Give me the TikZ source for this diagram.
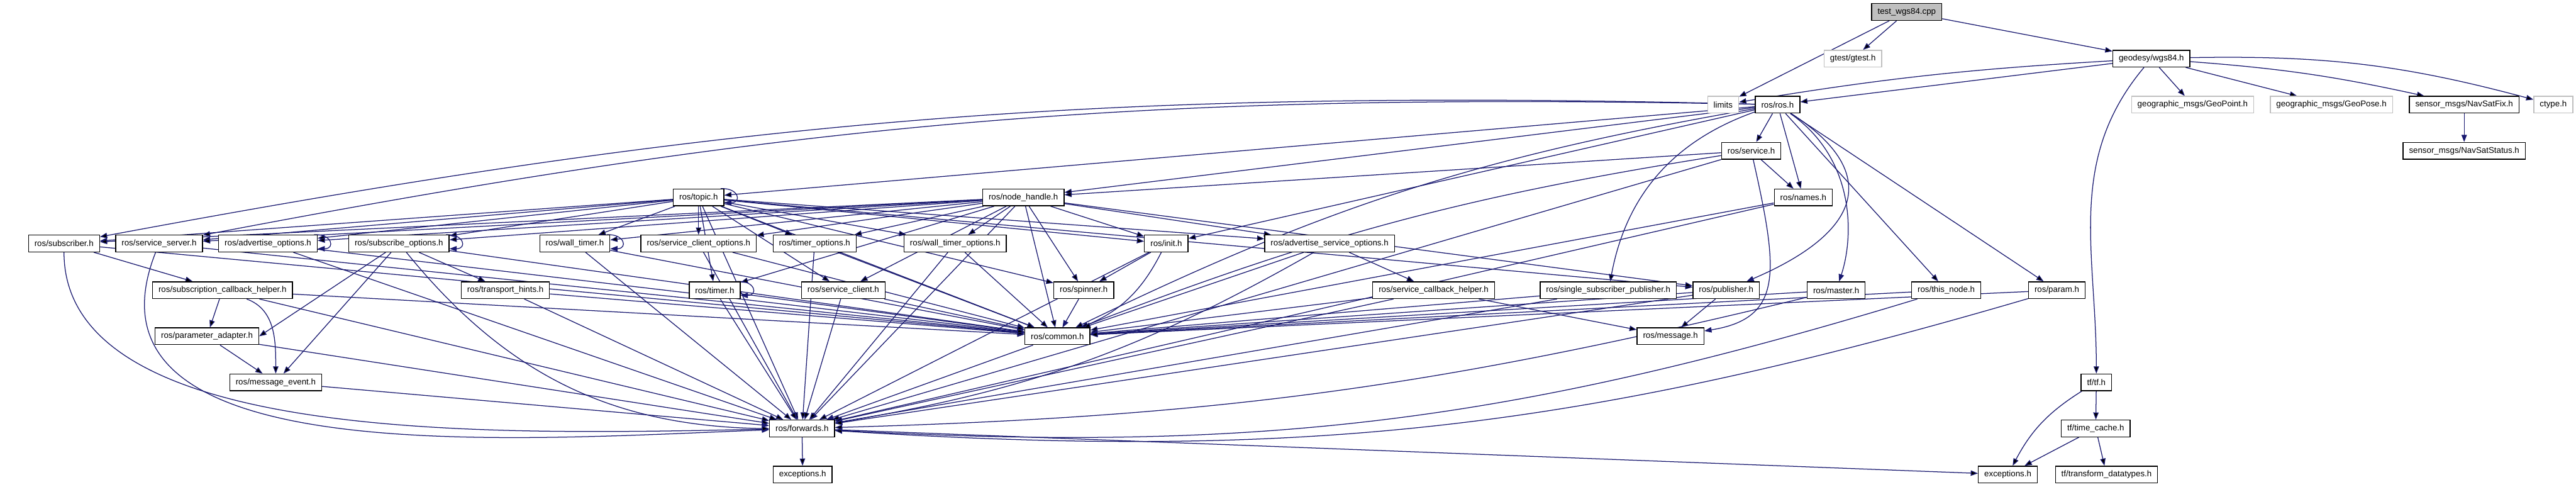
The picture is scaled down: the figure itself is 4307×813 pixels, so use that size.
\documentclass[tikz,border=0pt]{standalone}
\usepackage{fontspec}
\setmainfont{Liberation Sans}
\usepackage{tikz}
\usetikzlibrary{arrows.meta,backgrounds}
\definecolor{edgeblue}{RGB}{25,25,112}
\definecolor{undocgray}{RGB}{191,191,191}

\begin{document}
\begin{tikzpicture}[
    x=0.25pt, y=0.25pt,
    hdr/.style={rectangle, draw=black, fill=white, line width=0.35pt, minimum height=7pt, inner xsep=2.5pt, inner ysep=0.5pt, font=\fontsize{3.5}{4.2}\selectfont},
    extern/.style={hdr, draw=undocgray},
    rootfile/.style={hdr, fill=undocgray},
    arrow/.style={-{Triangle[length=3pt,width=2.25pt]}, draw=edgeblue, line width=0.33pt}
]
\useasboundingbox (0,0) rectangle (4307,-813);

% ═══════════════════════════════════════════════════════════════
% Top: test file, geodesy and ros.h
% ═══════════════════════════════════════════════════════════════
\node[rootfile] (test) at (3188,-20) {test\_wgs84.cpp};
\node[extern] (gtest) at (3098,-98) {gtest/gtest.h};
\node[hdr] (geodesy) at (3597,-98) {geodesy/wgs84.h};
\node[extern] (limits) at (2881,-175) {limits};
\node[hdr] (rosh) at (2972,-175) {ros/ros.h};
\node[extern] (geopoint) at (3666,-175) {geographic\_msgs/GeoPoint.h};
\node[extern] (geopose) at (3898,-175) {geographic\_msgs/GeoPose.h};
\node[hdr] (navfix) at (4120,-175) {sensor\_msgs/NavSatFix.h};
\node[extern] (ctype) at (4269,-175) {ctype.h};
\node[hdr] (service) at (2928,-252) {ros/service.h};
\node[hdr] (navstatus) at (4120,-252) {sensor\_msgs/NavSatStatus.h};

% ═══════════════════════════════════════════════════════════════
% Middle rows: roscpp headers
% ═══════════════════════════════════════════════════════════════
\node[hdr] (topic) at (1168,-330) {ros/topic.h};
\node[hdr] (nh) at (1711,-330) {ros/node\_handle.h};
\node[hdr] (names) at (3015,-330) {ros/names.h};

\node[hdr] (subscriber) at (107,-407) {ros/subscriber.h};
\node[hdr] (srvserver) at (266,-407) {ros/service\_server.h};
\node[hdr] (advopt) at (448,-407) {ros/advertise\_options.h};
\node[hdr] (subopt) at (667,-407) {ros/subscribe\_options.h};
\node[hdr] (walltimer) at (961,-407) {ros/wall\_timer.h};
\node[hdr] (srvclientopt) at (1168,-407) {ros/service\_client\_options.h};
\node[hdr] (timeropt) at (1362,-407) {ros/timer\_options.h};
\node[hdr] (walltimeropt) at (1597,-407) {ros/wall\_timer\_options.h};
\node[hdr] (init) at (1950,-407) {ros/init.h};
\node[hdr] (advsrvopt) at (2223,-407) {ros/advertise\_service\_options.h};

\node[hdr] (sch) at (372,-485) {ros/subscription\_callback\_helper.h};
\node[hdr] (hints) at (845,-485) {ros/transport\_hints.h};
\node[hdr] (timer) at (1195,-485) {ros/timer.h};
\node[hdr] (srvclient) at (1410,-485) {ros/service\_client.h};
\node[hdr] (spinner) at (1812,-485) {ros/spinner.h};
\node[hdr] (srvcbhelper) at (2397,-485) {ros/service\_callback\_helper.h};
\node[hdr] (ssp) at (2689,-485) {ros/single\_subscriber\_publisher.h};
\node[hdr] (publisher) at (2886,-485) {ros/publisher.h};
\node[hdr] (master) at (3070,-485) {ros/master.h};
\node[hdr] (thisnode) at (3254,-485) {ros/this\_node.h};
\node[hdr] (param) at (3439,-485) {ros/param.h};

\node[hdr] (paramadapter) at (346,-562) {ros/parameter\_adapter.h};
\node[hdr] (common) at (1768,-562) {ros/common.h};
\node[hdr] (message) at (2793,-562) {ros/message.h};

\node[hdr] (msgevent) at (461,-639) {ros/message\_event.h};
\node[hdr] (tf) at (3505,-639) {tf/tf.h};

% ═══════════════════════════════════════════════════════════════
% Bottom rows
% ═══════════════════════════════════════════════════════════════
\node[hdr] (forwards) at (1341,-716) {ros/forwards.h};
\node[hdr] (timecache) at (3504,-716) {tf/time\_cache.h};
\node[hdr] (exceptions) at (1342,-793) {exceptions.h};
\node[hdr] (tfexceptions) at (3357,-793) {exceptions.h};
\node[hdr] (tfdatatypes) at (3522,-793) {tf/transform\_datatypes.h};

\begin{scope}[on background layer]
% test file and geodesy
\draw[arrow] (test) edge (gtest) edge (limits) edge (geodesy);
\draw[arrow] (geodesy) edge[bend right=3] (limits) edge (rosh) edge (geopoint) edge (geopose)
    edge[bend left=4] (navfix) edge[bend left=8] (ctype) edge[out=-130,in=90] (tf);
\draw[arrow] (navfix) -- (navstatus);
\draw[arrow] (tf) edge (timecache) edge[bend right=15] (tfexceptions);
\draw[arrow] (timecache) edge (tfexceptions) edge (tfdatatypes);

% ros.h and service.h
\draw[arrow] (rosh) edge (service) edge (names) edge (topic) edge (nh)
    edge[bend right=6] (subscriber) edge[bend right=6] (srvserver)
    edge (init) edge[bend right=30] (ssp) edge[bend right=8] (common) edge (thisnode) edge (param);
\draw[arrow] (rosh) .. controls +(170,-110) and +(234,100) .. (publisher);
\draw[arrow] (rosh) .. controls +(130,-90) and +(30,90) .. (master);
\draw[arrow] (service) edge (names) edge (nh) edge[bend right=6] (common) edge (forwards);
\draw[arrow] (service) .. controls +(45,-200) and +(190,30) .. (message);
\draw[arrow] (names) edge (common) edge (forwards);

% topic.h and node_handle.h
\draw[arrow] (topic) edge (subscriber) edge (srvserver) edge (advopt) edge (subopt)
    edge (walltimer) edge (srvclientopt) edge (timeropt) edge (walltimeropt)
    edge (init) edge (advsrvopt) edge (publisher) edge (timer) edge (srvclient)
    edge (spinner) edge (common) edge (forwards);
\draw[arrow] (nh) edge (subscriber) edge (srvserver) edge (advopt) edge (subopt)
    edge (walltimer) edge (srvclientopt) edge (timeropt) edge (walltimeropt)
    edge (init) edge (advsrvopt) edge (publisher) edge (timer) edge (srvclient)
    edge (spinner) edge (common) edge (forwards);

% options and friends
\draw[arrow] (subscriber) edge (sch) edge (common);
\draw[arrow] (subscriber) .. controls +(0,-340) and +(-500,-10) .. (forwards);
\draw[arrow] (srvserver) edge (common);
\draw[arrow] (srvserver) .. controls +(-150,-380) and +(-500,-20) .. (forwards);
\draw[arrow] (advopt) edge (common) edge (forwards);
\draw[arrow] (subopt) edge (hints) edge (msgevent) edge (paramadapter.east) edge (common)
    edge[bend right=25] (forwards);
\draw[arrow] (walltimer) edge (common) edge (forwards);
\draw[arrow] (srvclientopt) edge (common) edge (forwards);
\draw[arrow] (timeropt) edge (common) edge (forwards);
\draw[arrow] (walltimeropt) edge (common) edge (forwards);
\draw[arrow] (init) edge (spinner) edge[bend left=20] (common) edge (forwards);
\draw[arrow] (advsrvopt) edge (srvcbhelper) edge (common) edge[bend left=10] (forwards);

% helpers, publishers, master
\draw[arrow] (sch) edge (paramadapter) edge[out=-20,in=90] (msgevent) edge (common) edge (forwards);
\draw[arrow] (hints) edge (common) edge (forwards);
\draw[arrow] (timer) edge (common) edge (forwards);
\draw[arrow] (srvclient) edge (common) edge (forwards);
\draw[arrow] (spinner) -- (common);
\draw[arrow] (srvcbhelper) edge (message) edge (common) edge (forwards);
\draw[arrow] (ssp) edge (common) edge (forwards);
\draw[arrow] (publisher) edge (message) edge (common) edge (forwards);
\draw[arrow] (master) edge (common) edge[bend left=6] (forwards);
\draw[arrow] (thisnode) edge (common) edge[bend left=10] (forwards);
\draw[arrow] (param) edge (common) edge[bend left=10] (forwards);
\draw[arrow] (paramadapter) edge (msgevent) edge (forwards);
\draw[arrow] (common) -- (forwards);
\draw[arrow] (msgevent) -- (forwards);
\draw[arrow] (forwards) edge (exceptions) edge (tfexceptions);

% self loops
\draw[arrow] ([xshift=-1.5pt]topic.north east) .. controls +(30,2) and +(30,0) .. ([yshift=1.5pt]topic.south east);
\draw[arrow] ([xshift=-1.5pt]advopt.north east) .. controls +(30,2) and +(30,0) .. ([yshift=1.5pt]advopt.south east);
\draw[arrow] ([xshift=-1.5pt]subopt.north east) .. controls +(30,2) and +(30,0) .. ([yshift=1.5pt]subopt.south east);
\draw[arrow] ([xshift=-1.5pt]walltimer.north east) .. controls +(30,2) and +(30,0) .. ([yshift=1.5pt]walltimer.south east);
\draw[arrow] ([xshift=-1.5pt]timer.north east) .. controls +(30,2) and +(30,0) .. ([yshift=1.5pt]timer.south east);
\end{scope}

\end{tikzpicture}
\end{document}
